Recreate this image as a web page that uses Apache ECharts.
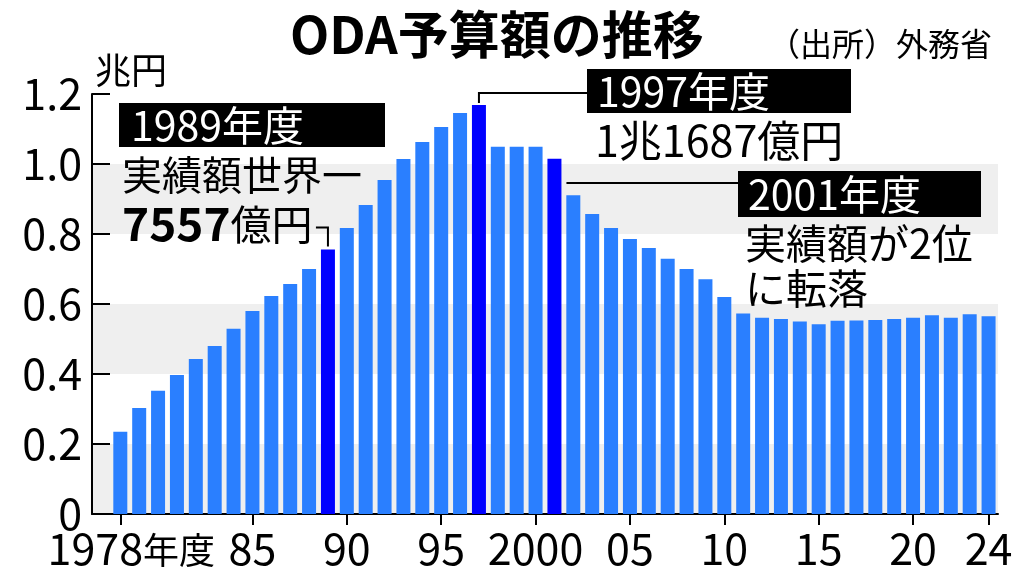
<!DOCTYPE html>
<html><head><meta charset="utf-8">
<script src="https://cdn.jsdelivr.net/npm/echarts@6/dist/echarts.min.js"></script>
<style>html,body{margin:0;padding:0;background:#fff}#c{width:1024px;height:581px}</style>
</head><body><div id="c"></div>
<script>
const years = [];
for (let y = 1978; y <= 2024; y++) years.push(y);
const values = [
  0.235, 0.303, 0.352, 0.397, 0.443, 0.480, 0.529, 0.580, 0.623, 0.657,
  0.700, 0.7557, 0.817, 0.883, 0.954, 1.014, 1.063, 1.106, 1.146, 1.1687,
  1.049, 1.049, 1.049, 1.0152, 0.911, 0.857, 0.817, 0.786, 0.760, 0.729,
  0.700, 0.671, 0.620, 0.573, 0.561, 0.557, 0.550, 0.542, 0.552, 0.553,
  0.554, 0.557, 0.561, 0.568, 0.561, 0.571, 0.565
];
const highlightYears = [1989, 1997, 2001];
const xTickYears = [1978, 1985, 1990, 1995, 2000, 2005, 2010, 2015, 2020, 2024];
const xTickLabels = ['1978', '85', '90', '95', '2000', '05', '10', '15', '20', '24'];
const yTickLabels = ['0', '0.2', '0.4', '0.6', '0.8', '1.0', '1.2'];

const FONT = '"Noto Sans CJK JP", sans-serif';
const chart = echarts.init(document.getElementById('c'), null, {renderer: 'canvas'});

const data = years.map((y, i) => {
  const d = {value: [y, values[i]]};
  if (highlightYears.includes(y)) d.itemStyle = {color: '#0000ff'};
  return d;
});

chart.setOption({
  animation: false,
  backgroundColor: '#ffffff',
  grid: {left: 92, right: 26, top: 94, bottom: 67},
  xAxis: {
    type: 'value', min: 1976.5, max: 2024.5,
    splitLine: {show: false},
    axisLine: {show: true, lineStyle: {color: '#000', width: 2}},
    axisTick: {show: true, customValues: xTickYears, length: 11, lineStyle: {color: '#000', width: 2}},
    axisLabel: {
      show: true, customValues: xTickYears, margin: 13, color: '#000',
      fontFamily: FONT, fontSize: 43,
      formatter: v => {
        const i = xTickYears.indexOf(Math.round(v));
        if (i === 0) return '{n|' + xTickLabels[0] + '}{k|年度}';
        return xTickLabels[i];
      },
      rich: {
        n: {fontFamily: FONT, fontSize: 43, color: '#000', padding: [0, 0, 0, 22]},
        k: {fontFamily: FONT, fontSize: 36, color: '#000', padding: [4, 0, 0, 0]}
      }
    }
  },
  yAxis: {
    type: 'value', min: 0, max: 1.2, interval: 0.2,
    axisLine: {show: true, lineStyle: {color: '#000', width: 2}},
    axisTick: {show: true, inside: true, length: 18, lineStyle: {color: '#000', width: 2}},
    splitLine: {show: false},
    splitArea: {show: true, areaStyle: {color: ['#efefef', '#ffffff']}},
    axisLabel: {
      color: '#000', fontFamily: FONT, fontSize: 43, margin: 10,
      formatter: v => yTickLabels[Math.round(v / 0.2)]
    }
  },
  series: [{
    type: 'bar', data: data, barWidth: 14,
    itemStyle: {color: '#2a7fff'}
  }]
});

const p = (y, v) => chart.convertToPixel({seriesIndex: 0}, [y, v]);
const vOf = y => values[years.indexOf(y)];
const b89 = p(1989, vOf(1989));
const b97 = p(1997, vOf(1997));
const b01 = p(2001, vOf(2001));

const line = (pts) => ({type: 'polyline', shape: {points: pts}, style: {stroke: '#000', lineWidth: 2, fill: null}});
const box = (x, y, w, h) => ({type: 'rect', shape: {x: x, y: y, width: w, height: h}, style: {fill: '#000'}});

chart.setOption({
  graphic: [
    {type: 'text', x: 290, y: 35, style: {text: 'ODA予算額の推移', fill: '#000', font: 'bold 51px ' + FONT, textVerticalAlign: 'middle'}},
    {type: 'text', x: 992, y: 44, style: {text: '（出所）外務省', fill: '#000', font: 'normal 32px ' + FONT, textVerticalAlign: 'middle', textAlign: 'right'}},
    {type: 'text', x: 95, y: 70, style: {text: '兆円', fill: '#000', font: 'normal 36px ' + FONT, textVerticalAlign: 'middle'}},
    box(119, 103, 266, 44),
    {type: 'text', x: 131, y: 125, style: {text: '1989年度', fill: '#fff', font: 'normal 41px ' + FONT, textVerticalAlign: 'middle'}},
    {type: 'text', x: 122, y: 175, style: {text: '実績額世界一', fill: '#000', font: 'normal 40px ' + FONT, textVerticalAlign: 'middle'}},
    {type: 'text', x: 122, y: 224, style: {text: '{b|7557}{r|億円}', fill: '#000', textVerticalAlign: 'middle',
      rich: {b: {fontFamily: FONT, fontSize: 46, fontWeight: 'bold', fill: '#000'}, r: {fontFamily: FONT, fontSize: 41, fill: '#000'}}}},
    line([[b89[0] - 12, b89[1] - 22], [b89[0], b89[1] - 22], [b89[0], b89[1] - 3]]),
    line([[b97[0], b97[1] - 2], [b97[0], 93], [587, 93]]),
    box(587, 69, 264, 44),
    {type: 'text', x: 597, y: 91, style: {text: '1997年度', fill: '#fff', font: 'normal 41px ' + FONT, textVerticalAlign: 'middle'}},
    {type: 'text', x: 595, y: 141, style: {text: '1兆1687億円', fill: '#000', font: 'normal 43px ' + FONT, textVerticalAlign: 'middle'}},
    line([[b01[0] + 12, 183], [738, 183]]),
    box(738, 171, 243, 46),
    {type: 'text', x: 748, y: 194, style: {text: '2001年度', fill: '#fff', font: 'normal 41px ' + FONT, textVerticalAlign: 'middle'}},
    {type: 'text', x: 745, y: 243, style: {text: '実績額が2位', fill: '#000', font: 'normal 41px ' + FONT, textVerticalAlign: 'middle'}},
    {type: 'text', x: 745, y: 288, style: {text: 'に転落', fill: '#000', font: 'normal 41px ' + FONT, textVerticalAlign: 'middle'}}
  ]
});
</script></body></html>
